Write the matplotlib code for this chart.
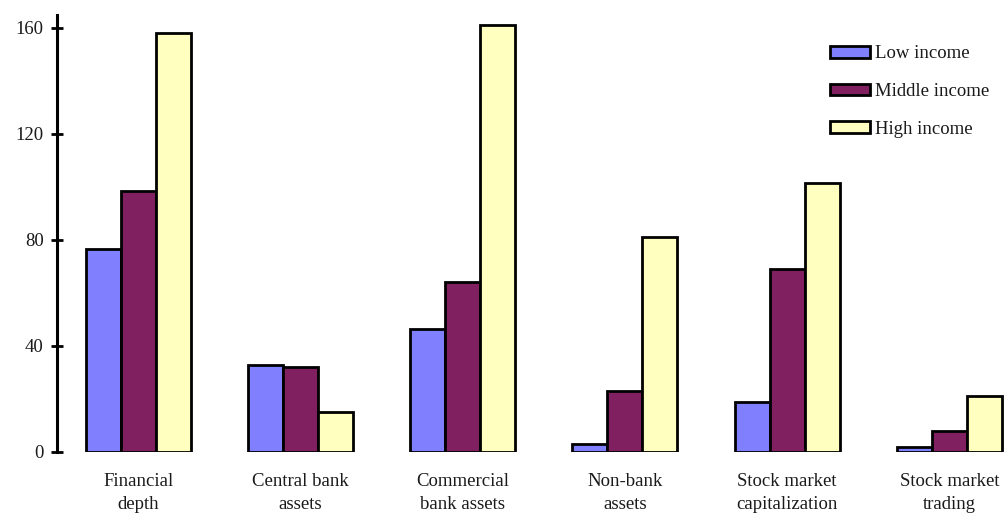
import matplotlib
matplotlib.use("Agg")
import matplotlib.pyplot as plt
import numpy as np

categories = ["Financial\ndepth", "Central bank\nassets", "Commercial\nbank assets",
              "Non-bank\nassets", "Stock market\ncapitalization", "Stock market\ntrading"]
series_names = ["Low income", "Middle income", "High income"]
low_income = [76.5, 33, 46.5, 3, 19, 2]
middle_income = [98.5, 32, 64, 23, 69, 8]
high_income = [158, 15, 161, 81, 101.5, 21]
colors = ["#8080FF", "#802060", "#FFFFC0"]
yticks = [0, 40, 80, 120, 160]

plt.rcParams['font.family'] = ['Liberation Serif', 'DejaVu Serif']

W, H = 1007, 516
fig = plt.figure(figsize=(W / 100, H / 100), dpi=100)
left = 57 / W
bottom = (H - 452) / H
top = (H - 14.75) / H
ax = fig.add_axes([left, bottom, 1.0 - left, top - bottom])

x = np.arange(len(categories))
width = 0.216
for i, (vals, name, c) in enumerate(zip([low_income, middle_income, high_income], series_names, colors)):
    ax.bar(x + (i - 1) * width, vals, width, color=c, edgecolor="black", linewidth=2.0,
           label=name, zorder=2)

ax.set_xlim(-0.5, 5.355)
ax.set_ylim(0, 165)
ax.set_yticks(yticks)
ax.set_yticklabels([str(v) for v in yticks], fontsize=13.5, color="#1a1a1a")
ax.tick_params(axis="y", direction="inout", length=9, width=2.0, pad=5)
ax.set_xticks(x)
ax.set_xticklabels(categories, fontsize=13.5, color="#1a1a1a", linespacing=1.5)
ax.tick_params(axis="x", length=0, pad=15)
for s in ["top", "right", "bottom"]:
    ax.spines[s].set_visible(False)
ax.spines["left"].set_linewidth(2.2)

leg = ax.legend(loc="upper left", bbox_to_anchor=(822 / W, (H - 38) / H),
                bbox_transform=fig.transFigure, frameon=False, fontsize=13.5,
                handlelength=2.15, handleheight=0.55, handletextpad=0.3,
                labelspacing=1.1, borderaxespad=0)
for t in leg.get_texts():
    t.set_color("#1a1a1a")

fig.savefig("out.png", dpi=100)
